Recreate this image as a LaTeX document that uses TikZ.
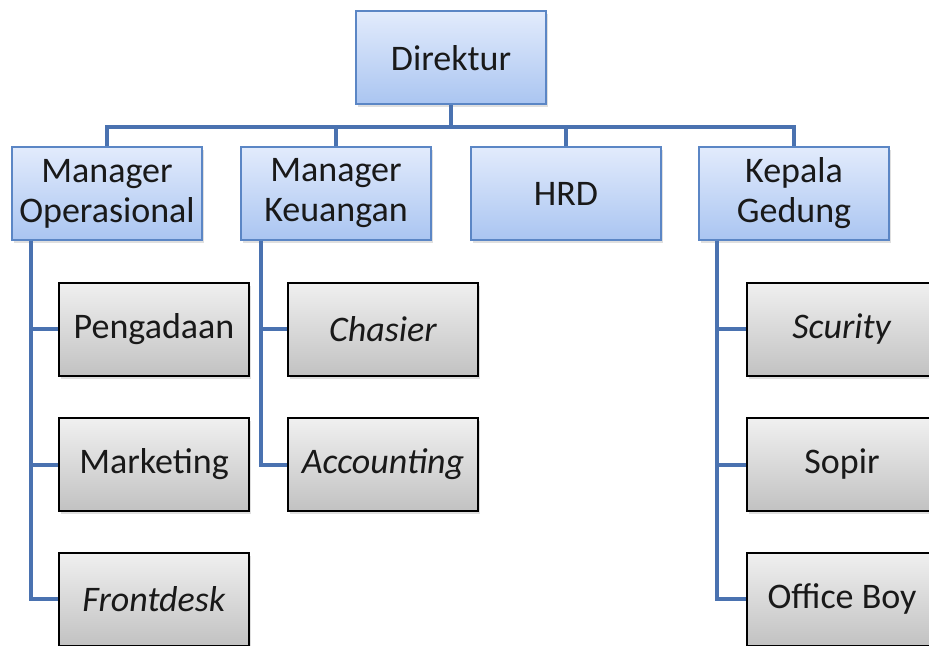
\documentclass[tikz,border=0pt]{standalone}
\usepackage{fontspec}
\setmainfont{Carlito}
\usetikzlibrary{shadows}
\definecolor{linkblue}{HTML}{4A72B0}
\definecolor{boxblue}{HTML}{5B86C5}
\definecolor{bluetop}{HTML}{E2EBFC}
\definecolor{bluebot}{HTML}{AAC5F1}
\definecolor{graytop}{HTML}{F0F0F0}
\definecolor{graybot}{HTML}{C2C2C2}
\begin{document}
\begin{tikzpicture}[x=0.5pt,y=-0.5pt,
        unit/.style={draw=boxblue,line width=1pt,top color=bluetop,bottom color=bluebot,
            minimum width=95pt,minimum height=46.5pt,align=center,font=\fontsize{18}{20}\selectfont,
            text=black!90,drop shadow={opacity=0.25,shadow xshift=1pt,shadow yshift=-1.5pt}},
        staff/.style={unit,draw=black,top color=graytop,bottom color=graybot},
        link/.style={draw=linkblue,line width=2pt}]
        \useasboundingbox (0,0) rectangle (929,646);
        %% top
        \node[unit] (dir) at (451,58) {Direktur};
        %% managers
        \foreach \n/\x/\t in {mo/107/{Manager\\Operasional},mk/336/{Manager\\Keuangan},hrd/566/HRD,kg/794/{Kepala\\Gedung}}
            \node[unit] (\n) at (\x,193.5) {\t};
        %% staff
        \foreach \n/\y/\t in {peng/329/Pengadaan,mark/464.5/Marketing,front/599/\textit{Frontdesk}}
            \node[staff] (\n) at (154,\y) {\t};
        \foreach \n/\y/\t in {cha/329/\textit{Chasier},acc/464.5/\textit{Accounting}}
            \node[staff] (\n) at (383,\y) {\t};
        \foreach \n/\y/\t in {scu/329/\textit{Scurity},sop/464.5/Sopir,ob/599/Office Boy}
            \node[staff] (\n) at (842,\y) {\t};
        %% links
        \foreach \m in {mo,mk,hrd,kg}
            \draw[link] (dir.south) -- ++(0,22) -| (\m.north);
        \foreach \c in {peng,mark,front}
            \draw[link] ([xshift=10pt]mo.south west) |- (\c.west);
        \foreach \c in {cha,acc}
            \draw[link] ([xshift=10.5pt]mk.south west) |- (\c.west);
        \foreach \c in {scu,sop,ob}
            \draw[link] ([xshift=9.5pt]kg.south west) |- (\c.west);
    \end{tikzpicture}
\end{document}
